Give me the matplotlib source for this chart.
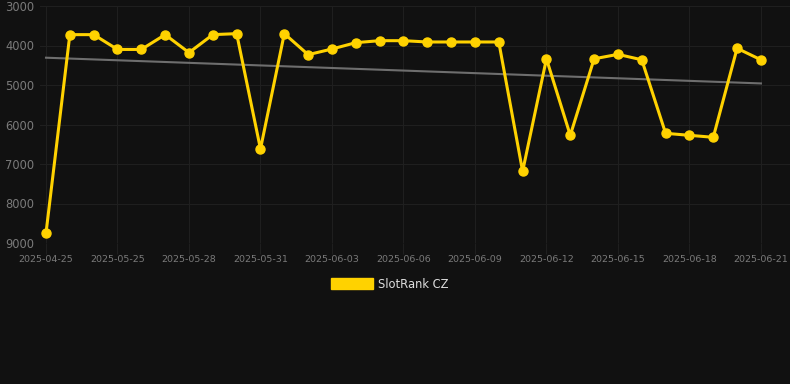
import matplotlib
matplotlib.use("Agg")
import matplotlib.pyplot as plt
import numpy as np
from matplotlib.patches import Patch

dates = ["2025-04-25", "2025-05-23", "2025-05-24", "2025-05-25", "2025-05-26", "2025-05-27",
         "2025-05-28", "2025-05-29", "2025-05-30", "2025-05-31", "2025-06-01", "2025-06-02",
         "2025-06-03", "2025-06-04", "2025-06-05", "2025-06-06", "2025-06-07", "2025-06-08",
         "2025-06-09", "2025-06-10", "2025-06-11", "2025-06-12", "2025-06-13", "2025-06-14",
         "2025-06-15", "2025-06-16", "2025-06-17", "2025-06-18", "2025-06-19", "2025-06-20",
         "2025-06-21"]
ranks = [8750, 3725, 3725, 4100, 4100, 3725, 4180, 3725, 3700, 6620, 3700, 4232,
         4089, 3928, 3878, 3878, 3911, 3911, 3911, 3911, 7185, 4337, 6274, 4337,
         4224, 4362, 6223, 6274, 6324, 4071, 4362]
series_name = "SlotRank CZ"
y_ticks = [3000, 4000, 5000, 6000, 7000, 8000, 9000]

bg = "#111111"
gold = "#FFD200"
grid_c = "#1f1f1f"

fig = plt.figure(figsize=(7.9, 3.84), dpi=100, facecolor=bg)
ax = fig.add_axes([40/790, 1-243/384, 750/790, 237/384], facecolor=bg)

x = np.arange(len(ranks))
coef = np.polyfit(x, ranks, 1)
ax.plot(x, np.polyval(coef, x), color="#6e6e6e", lw=1.5, zorder=2)
ax.plot(x, ranks, color=gold, lw=2.2, marker="o", ms=6.5, zorder=3)

ax.set_ylim(9000, 3000)
ax.set_yticks(y_ticks)
ax.set_yticklabels([str(v) for v in y_ticks])
ax.set_xlim(-0.252, 31.22)
tick_idx = list(range(0, len(dates), 3))
ax.set_xticks(tick_idx)
ax.set_xticklabels([dates[i] for i in tick_idx])

ax.grid(True, color=grid_c, lw=0.8)
ax.set_axisbelow(True)
for s in ax.spines.values():
    s.set_visible(False)
ax.tick_params(axis="y", length=0, pad=4, labelsize=8.3, labelcolor="#7a7a7a")
ax.tick_params(axis="x", length=8, color=grid_c, width=0.8, pad=1, labelsize=6.8, labelcolor="#7a7a7a")

leg = fig.legend(handles=[Patch(facecolor=gold, edgecolor=gold, label=series_name)],
                 loc="center", bbox_to_anchor=(390/790, 1-284/384), frameon=False,
                 handlelength=3.6, handleheight=1.0, handletextpad=0.5, fontsize=8.3)
for t in leg.get_texts():
    t.set_color("#dddddd")

fig.savefig("out.png", dpi=100, facecolor=bg)
